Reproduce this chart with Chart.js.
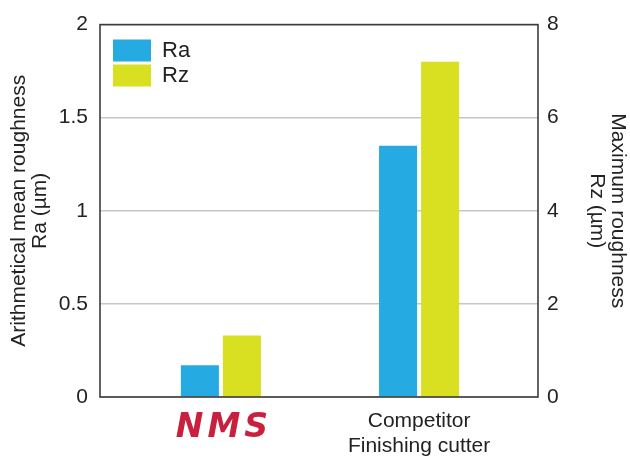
<!DOCTYPE html>
<html>
<head>
<meta charset="utf-8">
<script src="https://cdn.jsdelivr.net/npm/chart.js@4"></script>
<style>
  html, body { margin: 0; padding: 0; background: #fff; }
  #wrap { width: 630px; height: 457px; }
</style>
</head>
<body>
<div id="wrap"><canvas id="c" width="630" height="457"></canvas></div>
<script>
// ---- data ----
const categories = ['NMS', ['Competitor', 'Finishing cutter']];
const raValues = [0.17, 1.35];   // Ra (µm), left axis
const rzValues = [1.32, 7.2];    // Rz (µm), right axis
const raTicks = [0, 0.5, 1, 1.5, 2];
const rzTicks = [0, 2, 4, 6, 8];
const seriesNames = ['Ra', 'Rz'];
const leftTitle = ['Arithmetical mean roughness', 'Ra (µm)'];
const rightTitle = ['Maximum roughness', 'Rz (µm)'];

const positions = categories.map((_, i) => i);
const FONT = "'Liberation Sans', Arial, Helvetica, sans-serif";
const TXT = '#222222';

const framePlugin = {
  id: 'frame',
  afterLayout(chart) {
    const lg = chart.legend;
    if (lg) {
      const h = lg.bottom - lg.top;
      lg.left = chart.chartArea.left + 10;
      lg.top = chart.chartArea.top + 12;
      lg.bottom = lg.top + h;
    }
  },
  afterDatasetsDraw(chart) {
    const a = chart.chartArea, ctx = chart.ctx;
    ctx.save();
    ctx.strokeStyle = '#3c3c3c';
    ctx.lineWidth = 1.6;
    ctx.strokeRect(a.left, a.top, a.right - a.left, a.bottom - a.top);
    ctx.restore();
  }
};

function patchLabelSpacing(scale) {
  if (scale._spacingPatched) return;
  scale._spacingPatched = true;
  const origDraw = scale.drawLabels;
  scale.drawLabels = function (chartArea) {
    const all = Object.getPrototypeOf(this).getLabelItems.call(this, chartArea);
    const ctx = this.ctx;
    for (const item of all) {
      this.getLabelItems = () => [item];
      ctx.save();
      const logo = item.font && item.font.style === 'italic';
      ctx.letterSpacing = logo ? '4px' : '0px';
      if (logo) ctx.translate(3, 0);
      origDraw.call(this, chartArea);
      ctx.restore();
    }
    delete this.getLabelItems;
  };
}

new Chart(document.getElementById('c'), {
  type: 'bar',
  data: {
    datasets: [
      {
        label: seriesNames[0],
        data: raValues.map((v, i) => ({ x: positions[i], y: v })),
        backgroundColor: '#25aae1',
        borderWidth: 0,
        yAxisID: 'y',
        categoryPercentage: 0.4242,
        barPercentage: 0.905
      },
      {
        label: seriesNames[1],
        data: rzValues.map((v, i) => ({ x: positions[i], y: v })),
        backgroundColor: '#d9e021',
        borderWidth: 0,
        yAxisID: 'y1',
        categoryPercentage: 0.4242,
        barPercentage: 0.905
      }
    ]
  },
  options: {
    responsive: false,
    animation: false,
    devicePixelRatio: 1,
    layout: { padding: { top: 22, left: 0, right: 0, bottom: 0 } },
    plugins: {
      legend: {
        position: 'chartArea',
        align: 'start',
        labels: {
          boxWidth: 38,
          boxHeight: 22,
          padding: 3,
          color: TXT,
          font: { family: FONT, size: 22 }
        }
      },
      tooltip: { enabled: false }
    },
    scales: {
      x: {
        type: 'linear',
        min: -0.61,
        max: 1.6,
        offset: false,
        grid: { display: false, drawTicks: false },
        border: { display: false },
        afterBuildTicks: (scale) => { scale.ticks = positions.map(v => ({ value: v })); },
        afterFit: (scale) => { scale.height = 60; },
        afterUpdate: patchLabelSpacing,
        ticks: {
          autoSkip: false,
          maxRotation: 0,
          padding: 12,
          callback: (value) => categories[value],
          color: (ctx) => ctx.index === 0 ? '#c8203d' : TXT,
          font: (ctx) => ctx.index === 0
            ? { family: "'DejaVu Sans', sans-serif", size: 33, weight: 'bold', style: 'italic', lineHeight: 1.2 }
            : { family: FONT, size: 21, lineHeight: 1.19 }
        }
      },
      y: {
        position: 'left',
        min: 0,
        max: 2,
        afterBuildTicks: (scale) => { scale.ticks = raTicks.map(v => ({ value: v })); },
        afterFit: (scale) => { scale.width = 100; },
        grid: { color: '#c6c6c6', lineWidth: 1.6, drawTicks: false },
        border: { display: false },
        ticks: {
          padding: 12, color: TXT, font: { family: FONT, size: 21 },
          callback: (value) => String(value)
        },
        title: {
          display: true,
          text: leftTitle,
          color: TXT,
          font: { family: FONT, size: 21, lineHeight: 1.0 },
          padding: { top: 9, bottom: 0 }
        }
      },
      y1: {
        position: 'right',
        min: 0,
        max: 8,
        afterBuildTicks: (scale) => { scale.ticks = rzTicks.map(v => ({ value: v })); },
        afterFit: (scale) => { scale.width = 92; },
        grid: { display: false, drawTicks: false },
        border: { display: false },
        ticks: {
          padding: 9, color: TXT, font: { family: FONT, size: 21 },
          callback: (value) => String(value)
        },
        title: {
          display: true,
          text: rightTitle,
          color: TXT,
          font: { family: FONT, size: 21, lineHeight: 1.0 },
          padding: { top: 2, bottom: 0 }
        }
      }
    }
  },
  plugins: [framePlugin]
});
</script>
</body>
</html>
